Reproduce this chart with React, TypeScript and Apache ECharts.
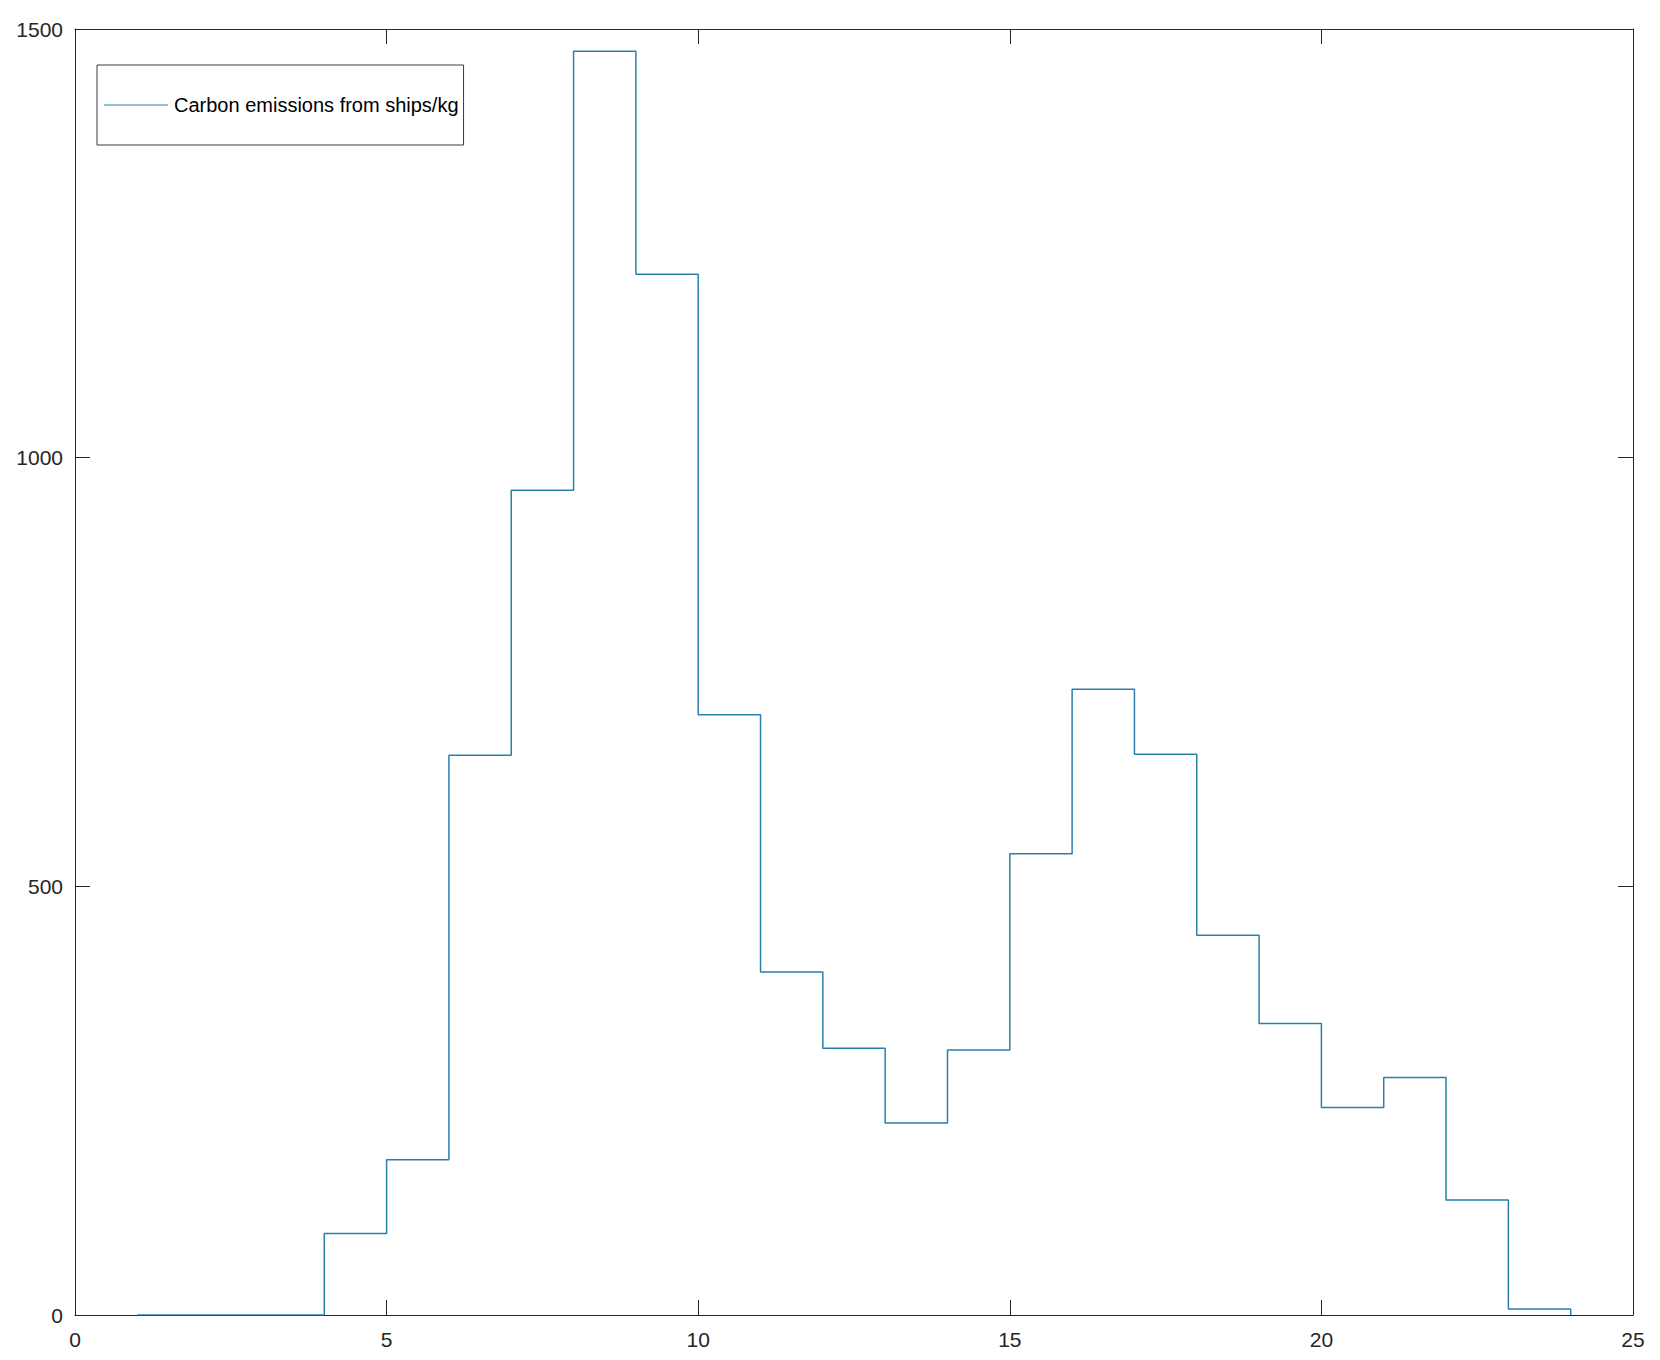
import React, { useEffect, useRef } from 'react';
import * as echarts from 'echarts';

// Hour index (stairs x positions) and emissions per step
const hours = [1, 2, 3, 4, 5, 6, 7, 8, 9, 10, 11, 12, 13, 14, 15, 16, 17, 18, 19, 20, 21, 22, 23, 24];
const emissions = [0, 0, 0, 95, 181, 653, 962, 1474, 1214, 700, 400, 311, 224, 309, 538, 730, 654, 443, 340, 242, 277, 134, 7, 0];

const xTicks = [0, 5, 10, 15, 20, 25];
const yTicks = [0, 500, 1000, 1500];

const seriesName = 'Carbon emissions from ships/kg';

const axisColor = '#262626';
const lineColor = '#2a80aa';
const fontFamily = '"Liberation Sans", Arial, Helvetica, sans-serif';

const App: React.FC = () => {
    const chartRef = useRef<HTMLDivElement>(null);

    useEffect(() => {
        if (!chartRef.current) return;
        const chart = echarts.init(chartRef.current, undefined, { renderer: 'svg' });

        const xMin = xTicks[0];
        const xMax = xTicks[xTicks.length - 1];
        const yMin = yTicks[0];
        const yMax = yTicks[yTicks.length - 1];

        const baseX = {
            type: 'value' as const,
            min: xMin,
            max: xMax,
            interval: xTicks[1] - xTicks[0],
            splitLine: { show: false },
            axisLine: { show: true, onZero: false, lineStyle: { color: axisColor, width: 1 } },
            axisTick: { show: true, inside: true, length: 15, lineStyle: { color: axisColor, width: 1 } }
        };
        const baseY = {
            type: 'value' as const,
            min: yMin,
            max: yMax,
            interval: yTicks[1] - yTicks[0],
            splitLine: { show: false },
            axisLine: { show: true, onZero: false, lineStyle: { color: axisColor, width: 1 } },
            axisTick: { show: true, inside: true, length: 15, lineStyle: { color: axisColor, width: 1 } }
        };

        chart.setOption({
            animation: false,
            backgroundColor: '#ffffff',
            textStyle: { fontFamily },
            grid: { left: 75, right: 27, top: 29, bottom: 45, containLabel: false },
            legend: {
                data: [seriesName],
                left: 97,
                top: 65,
                orient: 'vertical',
                icon: 'path://M0,0 L64,0 L64,1 L0,1 Z',
                itemWidth: 64,
                itemHeight: 2,
                itemGap: 0,
                padding: [30, 5, 30, 7],
                borderColor: '#3a3a3a',
                borderWidth: 1,
                backgroundColor: '#ffffff',
                textStyle: { color: '#000000', fontSize: 20, fontFamily, padding: [0, 0, 0, 1] }
            },
            xAxis: [
                {
                    ...baseX,
                    position: 'bottom',
                    axisLabel: { show: true, color: axisColor, fontSize: 21, fontFamily, margin: 14, formatter: (v: number) => String(v) }
                },
                {
                    ...baseX,
                    position: 'top',
                    axisLabel: { show: false }
                }
            ],
            yAxis: [
                {
                    ...baseY,
                    position: 'left',
                    axisLabel: { show: true, color: axisColor, fontSize: 21, fontFamily, margin: 12, formatter: (v: number) => String(v) }
                },
                {
                    ...baseY,
                    position: 'right',
                    axisLabel: { show: false }
                }
            ],
            series: [
                {
                    name: seriesName,
                    type: 'line',
                    step: 'end',
                    symbol: 'none',
                    showSymbol: false,
                    itemStyle: { color: lineColor },
                    lineStyle: { color: lineColor, width: 1.5 },
                    data: hours.map((h, i) => [h, emissions[i]])
                }
            ]
        });

        return () => {
            chart.dispose();
        };
    }, []);

    return (
        <div
            ref={chartRef}
            style={{ position: 'absolute', left: 0, top: 0, width: 1660, height: 1360, background: '#fff' }}
        />
    );
};

export default App;
